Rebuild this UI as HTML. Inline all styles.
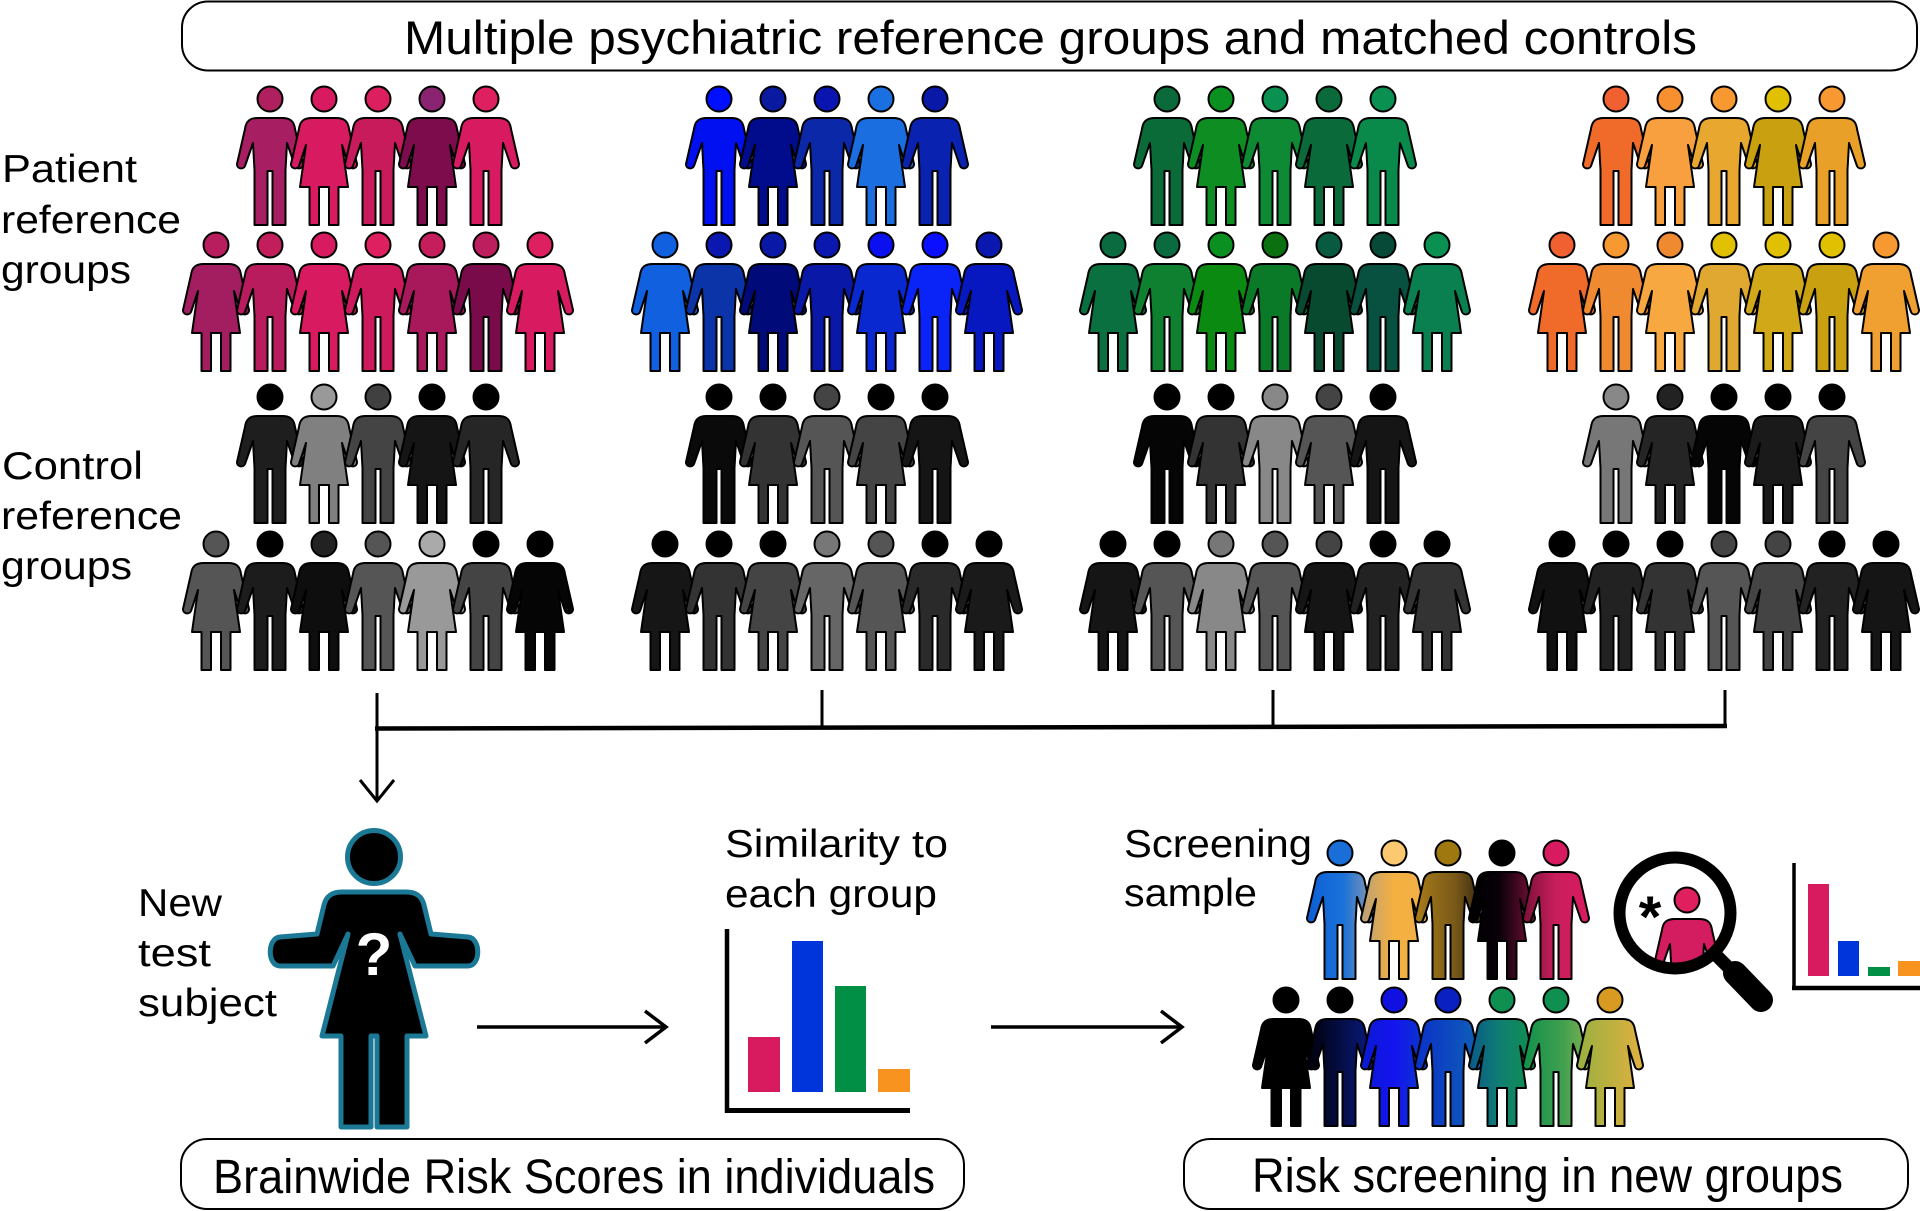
<!DOCTYPE html>
<html><head><meta charset="utf-8">
<style>html,body{margin:0;padding:0;background:#fff;}svg{display:block;}</style>
</head><body>
<svg width="1920" height="1211" viewBox="0 0 1920 1211" xmlns="http://www.w3.org/2000/svg" xmlns:xlink="http://www.w3.org/1999/xlink" font-family="'Liberation Sans', sans-serif">
<defs>
<path id="M" d="M -12,19 L 12,19 C 20,19 24,22 25,30 L 33,65 A 4.2,4.2 0 0 1 25,67 L 17,44 L 15.5,71 L 15.5,126 L 2.5,126 L 2.5,72 L -2.5,72 L -2.5,126 L -15.5,126 L -15.5,71 L -17,44 L -25,67 A 4.2,4.2 0 0 1 -33,65 L -25,30 C -24,22 -20,19 -12,19 Z"/>
<path id="F" d="M -12,19 L 12,19 C 20,19 24,22 25,30 L 33,65 A 4.2,4.2 0 0 1 25,67 L 18,46 L 24,88 L 14.5,88 L 14.5,126 L 5,126 L 5,88 L -5,88 L -5,126 L -14.5,126 L -14.5,88 L -24,88 L -18,46 L -25,67 A 4.2,4.2 0 0 1 -33,65 L -25,30 C -24,22 -20,19 -12,19 Z"/>
<linearGradient id="s1"><stop offset="0" stop-color="#0d5fd6"/><stop offset=".55" stop-color="#1a72d8"/><stop offset="1" stop-color="#8a98b0"/></linearGradient>
<linearGradient id="s2"><stop offset="0" stop-color="#b8a07a"/><stop offset=".5" stop-color="#f5b040"/><stop offset="1" stop-color="#f0b048"/></linearGradient>
<linearGradient id="s3"><stop offset="0" stop-color="#a87c18"/><stop offset=".6" stop-color="#7a5a18"/><stop offset="1" stop-color="#3a2810"/></linearGradient>
<linearGradient id="s4"><stop offset="0" stop-color="#000"/><stop offset=".45" stop-color="#080008"/><stop offset="1" stop-color="#7a1038"/></linearGradient>
<linearGradient id="s5"><stop offset="0" stop-color="#7a1038"/><stop offset=".5" stop-color="#c81e5c"/><stop offset="1" stop-color="#d81b60"/></linearGradient>
<linearGradient id="t2"><stop offset="0" stop-color="#000008"/><stop offset="1" stop-color="#0a1a80"/></linearGradient>
<linearGradient id="t3"><stop offset="0" stop-color="#0a1ad0"/><stop offset=".5" stop-color="#1414f0"/><stop offset="1" stop-color="#0a3ac8"/></linearGradient>
<linearGradient id="t4"><stop offset="0" stop-color="#0a30c8"/><stop offset="1" stop-color="#1060b8"/></linearGradient>
<linearGradient id="t5"><stop offset="0" stop-color="#0a5a8a"/><stop offset=".5" stop-color="#108070"/><stop offset="1" stop-color="#10904a"/></linearGradient>
<linearGradient id="t6"><stop offset="0" stop-color="#10904a"/><stop offset=".6" stop-color="#40a050"/><stop offset="1" stop-color="#80b050"/></linearGradient>
<linearGradient id="t7"><stop offset="0" stop-color="#98b040"/><stop offset="1" stop-color="#e0b040"/></linearGradient>
<clipPath id="mg"><circle cx="1675" cy="913" r="50"/></clipPath>
</defs>

<!-- header -->
<rect x="182" y="1.5" width="1735" height="69" rx="26" fill="#fff" stroke="#000" stroke-width="2"/>
<text x="404" y="54" font-size="47" textLength="1293" lengthAdjust="spacingAndGlyphs">Multiple psychiatric reference groups and matched controls</text>

<!-- left labels -->
<g font-size="39">
<text x="2" y="182" textLength="135" lengthAdjust="spacingAndGlyphs">Patient</text>
<text x="1" y="233" textLength="180" lengthAdjust="spacingAndGlyphs">reference</text>
<text x="1" y="283" textLength="130" lengthAdjust="spacingAndGlyphs">groups</text>
<text x="2" y="479" textLength="141" lengthAdjust="spacingAndGlyphs">Control</text>
<text x="1" y="529" textLength="181" lengthAdjust="spacingAndGlyphs">reference</text>
<text x="1" y="579" textLength="131" lengthAdjust="spacingAndGlyphs">groups</text>
<text x="138" y="916" textLength="84" lengthAdjust="spacingAndGlyphs">New</text>
<text x="138" y="966" textLength="73" lengthAdjust="spacingAndGlyphs">test</text>
<text x="138" y="1016" textLength="139" lengthAdjust="spacingAndGlyphs">subject</text>
<text x="725" y="857" textLength="223" lengthAdjust="spacingAndGlyphs">Similarity to</text>
<text x="725" y="907" textLength="212" lengthAdjust="spacingAndGlyphs">each group</text>
<text x="1124" y="857" textLength="188" lengthAdjust="spacingAndGlyphs">Screening</text>
<text x="1124" y="906" textLength="133" lengthAdjust="spacingAndGlyphs">sample</text>
</g>

<!-- figures -->
<g stroke="#000" stroke-width="2" stroke-linejoin="round">
<!-- G1 patient -->
<use href="#M" x="270" y="99" fill="#a81e62"/><circle cx="270" cy="99" r="12.5" fill="#b0205e"/>
<use href="#F" x="324" y="99" fill="#d81b60"/><circle cx="324" cy="99" r="12.5" fill="#d81b60"/>
<use href="#M" x="378" y="99" fill="#c71b5c"/><circle cx="378" cy="99" r="12.5" fill="#dc1f5e"/>
<use href="#F" x="432" y="99" fill="#7d0c4c"/><circle cx="432" cy="99" r="12.5" fill="#8a2470"/>
<use href="#M" x="486" y="99" fill="#d81b60"/><circle cx="486" cy="99" r="12.5" fill="#de1f60"/>
<use href="#F" x="216" y="245" fill="#a21e60"/><circle cx="216" cy="245" r="12.5" fill="#b81e5e"/>
<use href="#M" x="270" y="245" fill="#b81c5c"/><circle cx="270" cy="245" r="12.5" fill="#c21e5c"/>
<use href="#F" x="324" y="245" fill="#d81b60"/><circle cx="324" cy="245" r="12.5" fill="#d81b60"/>
<use href="#M" x="378" y="245" fill="#cc1a5c"/><circle cx="378" cy="245" r="12.5" fill="#de1f60"/>
<use href="#F" x="432" y="245" fill="#a8195c"/><circle cx="432" cy="245" r="12.5" fill="#c41e5c"/>
<use href="#M" x="486" y="245" fill="#7a0b4a"/><circle cx="486" cy="245" r="12.5" fill="#bc1e5e"/>
<use href="#F" x="540" y="245" fill="#d81b60"/><circle cx="540" cy="245" r="12.5" fill="#de1f60"/>
<!-- G2 patient -->
<use href="#M" x="719" y="99" fill="#0010f0"/><circle cx="719" cy="99" r="12.5" fill="#0010ff"/>
<use href="#F" x="773" y="99" fill="#000c8c"/><circle cx="773" cy="99" r="12.5" fill="#0a1aa0"/>
<use href="#M" x="827" y="99" fill="#0a28a8"/><circle cx="827" cy="99" r="12.5" fill="#0a14b0"/>
<use href="#F" x="881" y="99" fill="#1a6ee0"/><circle cx="881" cy="99" r="12.5" fill="#1a70e0"/>
<use href="#M" x="935" y="99" fill="#0a22b0"/><circle cx="935" cy="99" r="12.5" fill="#0a18a8"/>
<use href="#F" x="665" y="245" fill="#1060e0"/><circle cx="665" cy="245" r="12.5" fill="#1060e0"/>
<use href="#M" x="719" y="245" fill="#0a34a8"/><circle cx="719" cy="245" r="12.5" fill="#0a18b0"/>
<use href="#F" x="773" y="245" fill="#000a78"/><circle cx="773" cy="245" r="12.5" fill="#0a18a8"/>
<use href="#M" x="827" y="245" fill="#0a18a8"/><circle cx="827" cy="245" r="12.5" fill="#0a18b0"/>
<use href="#F" x="881" y="245" fill="#0a28d0"/><circle cx="881" cy="245" r="12.5" fill="#0a10f0"/>
<use href="#M" x="935" y="245" fill="#0a24f8"/><circle cx="935" cy="245" r="12.5" fill="#0a10ff"/>
<use href="#F" x="989" y="245" fill="#0818c0"/><circle cx="989" cy="245" r="12.5" fill="#0a18b0"/>
<!-- G3 patient -->
<use href="#M" x="1167" y="99" fill="#0a6a38"/><circle cx="1167" cy="99" r="12.5" fill="#0a6a3a"/>
<use href="#F" x="1221" y="99" fill="#0e8e22"/><circle cx="1221" cy="99" r="12.5" fill="#0a9020"/>
<use href="#M" x="1275" y="99" fill="#0e8a34"/><circle cx="1275" cy="99" r="12.5" fill="#0a9050"/>
<use href="#F" x="1329" y="99" fill="#0a6a3a"/><circle cx="1329" cy="99" r="12.5" fill="#0a6a3a"/>
<use href="#M" x="1383" y="99" fill="#0a8a4a"/><circle cx="1383" cy="99" r="12.5" fill="#0a9050"/>
<use href="#F" x="1113" y="245" fill="#0a7040"/><circle cx="1113" cy="245" r="12.5" fill="#0a6a40"/>
<use href="#M" x="1167" y="245" fill="#0e8030"/><circle cx="1167" cy="245" r="12.5" fill="#0a6a40"/>
<use href="#F" x="1221" y="245" fill="#0a8a10"/><circle cx="1221" cy="245" r="12.5" fill="#0a9020"/>
<use href="#M" x="1275" y="245" fill="#0a7a28"/><circle cx="1275" cy="245" r="12.5" fill="#0a7010"/>
<use href="#F" x="1329" y="245" fill="#084a30"/><circle cx="1329" cy="245" r="12.5" fill="#085a40"/>
<use href="#M" x="1383" y="245" fill="#085040"/><circle cx="1383" cy="245" r="12.5" fill="#084a38"/>
<use href="#F" x="1437" y="245" fill="#0a8050"/><circle cx="1437" cy="245" r="12.5" fill="#0a9050"/>
<!-- G4 patient -->
<use href="#M" x="1616" y="99" fill="#f06a2a"/><circle cx="1616" cy="99" r="12.5" fill="#f06030"/>
<use href="#F" x="1670" y="99" fill="#f8a040"/><circle cx="1670" cy="99" r="12.5" fill="#f89030"/>
<use href="#M" x="1724" y="99" fill="#e8a830"/><circle cx="1724" cy="99" r="12.5" fill="#f89830"/>
<use href="#F" x="1778" y="99" fill="#c8a010"/><circle cx="1778" cy="99" r="12.5" fill="#e0c000"/>
<use href="#M" x="1832" y="99" fill="#e8a028"/><circle cx="1832" cy="99" r="12.5" fill="#f89830"/>
<use href="#F" x="1562" y="245" fill="#f06a2a"/><circle cx="1562" cy="245" r="12.5" fill="#f06030"/>
<use href="#M" x="1616" y="245" fill="#f08a30"/><circle cx="1616" cy="245" r="12.5" fill="#f89830"/>
<use href="#F" x="1670" y="245" fill="#f8a840"/><circle cx="1670" cy="245" r="12.5" fill="#f08a30"/>
<use href="#M" x="1724" y="245" fill="#e0a830"/><circle cx="1724" cy="245" r="12.5" fill="#e0c000"/>
<use href="#F" x="1778" y="245" fill="#d0a818"/><circle cx="1778" cy="245" r="12.5" fill="#e0c000"/>
<use href="#M" x="1832" y="245" fill="#c8a010"/><circle cx="1832" cy="245" r="12.5" fill="#e0c000"/>
<use href="#F" x="1886" y="245" fill="#f0a030"/><circle cx="1886" cy="245" r="12.5" fill="#f89830"/>

<!-- G1 control -->
<use href="#M" x="270" y="397" fill="#1e1e1e"/><circle cx="270" cy="397" r="12.5" fill="#000"/>
<use href="#F" x="324" y="397" fill="#808080"/><circle cx="324" cy="397" r="12.5" fill="#999"/>
<use href="#M" x="378" y="397" fill="#444"/><circle cx="378" cy="397" r="12.5" fill="#404040"/>
<use href="#F" x="432" y="397" fill="#151515"/><circle cx="432" cy="397" r="12.5" fill="#000"/>
<use href="#M" x="486" y="397" fill="#262626"/><circle cx="486" cy="397" r="12.5" fill="#000"/>
<use href="#F" x="216" y="544" fill="#555"/><circle cx="216" cy="544" r="12.5" fill="#555"/>
<use href="#M" x="270" y="544" fill="#1c1c1c"/><circle cx="270" cy="544" r="12.5" fill="#000"/>
<use href="#F" x="324" y="544" fill="#0e0e0e"/><circle cx="324" cy="544" r="12.5" fill="#222"/>
<use href="#M" x="378" y="544" fill="#555"/><circle cx="378" cy="544" r="12.5" fill="#555"/>
<use href="#F" x="432" y="544" fill="#999"/><circle cx="432" cy="544" r="12.5" fill="#aaa"/>
<use href="#M" x="486" y="544" fill="#444"/><circle cx="486" cy="544" r="12.5" fill="#000"/>
<use href="#F" x="540" y="544" fill="#050505"/><circle cx="540" cy="544" r="12.5" fill="#000"/>
<!-- G2 control -->
<use href="#M" x="719" y="397" fill="#0a0a0a"/><circle cx="719" cy="397" r="12.5" fill="#000"/>
<use href="#F" x="773" y="397" fill="#333"/><circle cx="773" cy="397" r="12.5" fill="#000"/>
<use href="#M" x="827" y="397" fill="#555"/><circle cx="827" cy="397" r="12.5" fill="#444"/>
<use href="#F" x="881" y="397" fill="#444"/><circle cx="881" cy="397" r="12.5" fill="#000"/>
<use href="#M" x="935" y="397" fill="#151515"/><circle cx="935" cy="397" r="12.5" fill="#000"/>
<use href="#F" x="665" y="544" fill="#161616"/><circle cx="665" cy="544" r="12.5" fill="#000"/>
<use href="#M" x="719" y="544" fill="#333"/><circle cx="719" cy="544" r="12.5" fill="#000"/>
<use href="#F" x="773" y="544" fill="#444"/><circle cx="773" cy="544" r="12.5" fill="#000"/>
<use href="#M" x="827" y="544" fill="#666"/><circle cx="827" cy="544" r="12.5" fill="#777"/>
<use href="#F" x="881" y="544" fill="#555"/><circle cx="881" cy="544" r="12.5" fill="#555"/>
<use href="#M" x="935" y="544" fill="#2a2a2a"/><circle cx="935" cy="544" r="12.5" fill="#000"/>
<use href="#F" x="989" y="544" fill="#1a1a1a"/><circle cx="989" cy="544" r="12.5" fill="#000"/>
<!-- G3 control -->
<use href="#M" x="1167" y="397" fill="#050505"/><circle cx="1167" cy="397" r="12.5" fill="#000"/>
<use href="#F" x="1221" y="397" fill="#333"/><circle cx="1221" cy="397" r="12.5" fill="#000"/>
<use href="#M" x="1275" y="397" fill="#888"/><circle cx="1275" cy="397" r="12.5" fill="#888"/>
<use href="#F" x="1329" y="397" fill="#555"/><circle cx="1329" cy="397" r="12.5" fill="#444"/>
<use href="#M" x="1383" y="397" fill="#151515"/><circle cx="1383" cy="397" r="12.5" fill="#000"/>
<use href="#F" x="1113" y="544" fill="#151515"/><circle cx="1113" cy="544" r="12.5" fill="#000"/>
<use href="#M" x="1167" y="544" fill="#555"/><circle cx="1167" cy="544" r="12.5" fill="#000"/>
<use href="#F" x="1221" y="544" fill="#888"/><circle cx="1221" cy="544" r="12.5" fill="#777"/>
<use href="#M" x="1275" y="544" fill="#555"/><circle cx="1275" cy="544" r="12.5" fill="#555"/>
<use href="#F" x="1329" y="544" fill="#151515"/><circle cx="1329" cy="544" r="12.5" fill="#444"/>
<use href="#M" x="1383" y="544" fill="#222"/><circle cx="1383" cy="544" r="12.5" fill="#000"/>
<use href="#F" x="1437" y="544" fill="#333"/><circle cx="1437" cy="544" r="12.5" fill="#000"/>
<!-- G4 control -->
<use href="#M" x="1616" y="397" fill="#777"/><circle cx="1616" cy="397" r="12.5" fill="#888"/>
<use href="#F" x="1670" y="397" fill="#252525"/><circle cx="1670" cy="397" r="12.5" fill="#222"/>
<use href="#M" x="1724" y="397" fill="#050505"/><circle cx="1724" cy="397" r="12.5" fill="#000"/>
<use href="#F" x="1778" y="397" fill="#1a1a1a"/><circle cx="1778" cy="397" r="12.5" fill="#000"/>
<use href="#M" x="1832" y="397" fill="#444"/><circle cx="1832" cy="397" r="12.5" fill="#000"/>
<use href="#F" x="1562" y="544" fill="#111"/><circle cx="1562" cy="544" r="12.5" fill="#000"/>
<use href="#M" x="1616" y="544" fill="#222"/><circle cx="1616" cy="544" r="12.5" fill="#000"/>
<use href="#F" x="1670" y="544" fill="#333"/><circle cx="1670" cy="544" r="12.5" fill="#000"/>
<use href="#M" x="1724" y="544" fill="#555"/><circle cx="1724" cy="544" r="12.5" fill="#444"/>
<use href="#F" x="1778" y="544" fill="#444"/><circle cx="1778" cy="544" r="12.5" fill="#444"/>
<use href="#M" x="1832" y="544" fill="#222"/><circle cx="1832" cy="544" r="12.5" fill="#000"/>
<use href="#F" x="1886" y="544" fill="#151515"/><circle cx="1886" cy="544" r="12.5" fill="#000"/>

<!-- screening sample -->
<use href="#M" x="1340" y="853" fill="url(#s1)"/><circle cx="1340" cy="853" r="12.5" fill="#1a6ed8"/>
<use href="#F" x="1394" y="853" fill="url(#s2)"/><circle cx="1394" cy="853" r="12.5" fill="#fcc870"/>
<use href="#M" x="1448" y="853" fill="url(#s3)"/><circle cx="1448" cy="853" r="12.5" fill="#a07810"/>
<use href="#F" x="1502" y="853" fill="url(#s4)"/><circle cx="1502" cy="853" r="12.5" fill="#000"/>
<use href="#M" x="1556" y="853" fill="url(#s5)"/><circle cx="1556" cy="853" r="12.5" fill="#d81b60"/>
<use href="#F" x="1286" y="1000" fill="#000"/><circle cx="1286" cy="1000" r="12.5" fill="#000"/>
<use href="#M" x="1340" y="1000" fill="url(#t2)"/><circle cx="1340" cy="1000" r="12.5" fill="#000"/>
<use href="#F" x="1394" y="1000" fill="url(#t3)"/><circle cx="1394" cy="1000" r="12.5" fill="#1010e0"/>
<use href="#M" x="1448" y="1000" fill="url(#t4)"/><circle cx="1448" cy="1000" r="12.5" fill="#0a20c0"/>
<use href="#F" x="1502" y="1000" fill="url(#t5)"/><circle cx="1502" cy="1000" r="12.5" fill="#109050"/>
<use href="#M" x="1556" y="1000" fill="url(#t6)"/><circle cx="1556" cy="1000" r="12.5" fill="#109050"/>
<use href="#F" x="1610" y="1000" fill="url(#t7)"/><circle cx="1610" cy="1000" r="12.5" fill="#d89a20"/>

<!-- magnifier person -->
<g clip-path="url(#mg)">
<use href="#M" x="1687" y="900" fill="#d41c60"/><circle cx="1687" cy="900" r="12.5" fill="#e0205e"/>
</g>
</g>

<!-- magnifier -->
<circle cx="1675" cy="913" r="55.5" fill="none" stroke="#000" stroke-width="12"/>
<line x1="1713" y1="952" x2="1733" y2="972" stroke="#000" stroke-width="13"/>
<line x1="1735" y1="973" x2="1761" y2="1000" stroke="#000" stroke-width="24" stroke-linecap="round"/>
<text x="1650" y="937" font-size="58" font-weight="bold" text-anchor="middle">*</text>

<!-- connectors -->
<g stroke="#000" fill="none">
<line x1="377" y1="693" x2="377" y2="799" stroke-width="3"/>
<polyline points="360,780 377,801 394,780" stroke-width="3"/>
<line x1="375" y1="728.5" x2="1727" y2="726" stroke-width="4.5"/>
<line x1="822" y1="690" x2="822" y2="728" stroke-width="3"/>
<line x1="1273" y1="690" x2="1273" y2="727" stroke-width="3"/>
<line x1="1725" y1="690" x2="1725" y2="727" stroke-width="3"/>
<line x1="477" y1="1027" x2="664" y2="1027" stroke-width="3.5"/>
<polyline points="645,1011 666,1027 645,1043" stroke-width="3.5"/>
<line x1="991" y1="1027" x2="1180" y2="1027" stroke-width="3.5"/>
<polyline points="1161,1011 1182,1027 1161,1043" stroke-width="3.5"/>
</g>

<!-- bar chart 1 -->
<rect x="748" y="1037" width="32" height="55" fill="#d81b5e"/>
<rect x="792" y="941" width="31" height="151" fill="#0035dc"/>
<rect x="835" y="986" width="31" height="106" fill="#008f45"/>
<rect x="878" y="1069" width="32" height="23" fill="#f7931e"/>
<line x1="727" y1="929" x2="727" y2="1113" stroke="#000" stroke-width="4.5"/>
<line x1="725" y1="1110.5" x2="910" y2="1110.5" stroke="#000" stroke-width="5"/>

<!-- bar chart 2 -->
<rect x="1808" y="884" width="21" height="92" fill="#d81b5e"/>
<rect x="1838" y="941" width="21" height="35" fill="#0035dc"/>
<rect x="1868" y="967" width="22" height="9" fill="#008f45"/>
<rect x="1898" y="961" width="22" height="15" fill="#f7931e"/>
<line x1="1794" y1="863" x2="1794" y2="990" stroke="#000" stroke-width="3.5"/>
<line x1="1792" y1="988" x2="1920" y2="988" stroke="#000" stroke-width="4.5"/>

<!-- test subject -->
<circle cx="374" cy="857" r="26.5" fill="#000" stroke="#1b7995" stroke-width="5"/>
<path d="M 342,892 L 406,892 C 417,892 422,897 424,905 L 431,934 L 468,937 C 481,938 481,966 468,966 L 415,966 L 400,934 L 426,1036 L 407,1036 L 407,1127 L 377,1127 L 377,1036 L 371,1036 L 371,1127 L 341,1127 L 341,1036 L 322,1036 L 348,934 L 333,966 L 280,966 C 267,966 267,938 280,937 L 317,934 L 324,905 C 326,897 331,892 342,892 Z" fill="#000" stroke="#1b7995" stroke-width="5" stroke-linejoin="round"/>
<text x="374" y="975" font-size="60" font-weight="bold" fill="#fff" text-anchor="middle">?</text>

<!-- bottom boxes -->
<rect x="181" y="1139" width="783" height="70" rx="26" fill="#fff" stroke="#000" stroke-width="2"/>
<text x="213" y="1193" font-size="48" textLength="722" lengthAdjust="spacingAndGlyphs">Brainwide Risk Scores in individuals</text>
<rect x="1184" y="1139" width="724" height="70" rx="26" fill="#fff" stroke="#000" stroke-width="2"/>
<text x="1252" y="1192" font-size="48" textLength="591" lengthAdjust="spacingAndGlyphs">Risk screening in new groups</text>
</svg>
</body></html>
